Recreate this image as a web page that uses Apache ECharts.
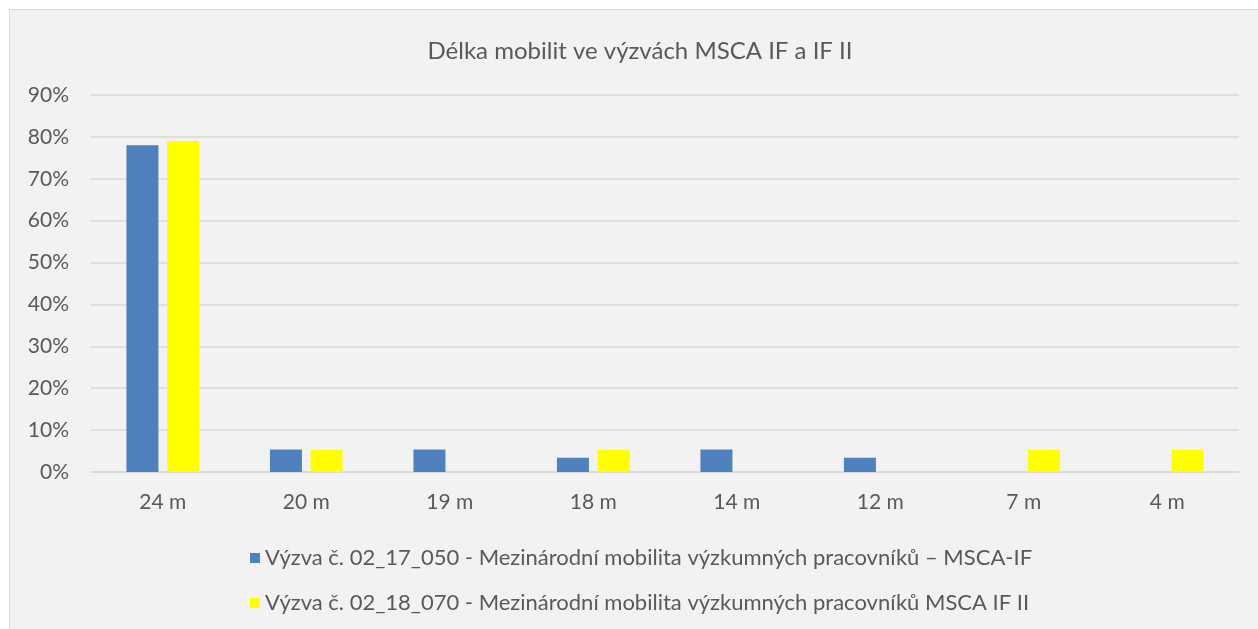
<!DOCTYPE html>
<html>
<head>
<meta charset="utf-8">
<script src="https://cdn.jsdelivr.net/npm/echarts@6/dist/echarts.min.js"></script>
<style>
  html, body { margin: 0; padding: 0; background: #ffffff; overflow: hidden; }
  #delkaMobilit {
    position: absolute;
    left: 9px;
    top: 9px;
    width: 1262px;
    height: 630px;
    border: 1px solid #d9d9d9;
    background: #f2f2f2;
  }
</style>
</head>
<body>
<div id="delkaMobilit"></div>
<script>
// kategorie - délka mobility
var kategorie = ["24 m", "20 m", "19 m", "18 m", "14 m", "12 m", "7 m", "4 m"];
// podíly v %
var vyzva050 = [78, 5.4, 5.4, 3.4, 5.4, 3.4, 0, 0];
var vyzva070 = [79, 5.3, 0, 5.3, 0, 0, 5.3, 5.3];
var nazvy = [
  "Výzva č. 02_17_050 - Mezinárodní mobilita výzkumných pracovníků – MSCA-IF",
  "Výzva č. 02_18_070 - Mezinárodní mobilita výzkumných pracovníků MSCA IF II"
];

var font = "Lato";
var seda = "#595959";

var myChart = echarts.init(document.getElementById("delkaMobilit"));
var option = {
  animation: false,
  textStyle: { fontFamily: font },
  title: {
    text: "Délka mobilit ve výzvách MSCA IF a IF II",
    left: 625,
    textAlign: "center",
    top: 24,
    textStyle: { fontFamily: font, fontSize: 24, fontWeight: "normal", color: seda }
  },
  legend: {
    orient: "vertical",
    left: 235,
    top: 532,
    itemWidth: 10,
    itemHeight: 10,
    itemGap: 23,
    icon: "rect",
    data: nazvy,
    textStyle: { fontFamily: font, fontSize: 22, color: seda, lineHeight: 22 }
  },
  grid: {
    left: 81,
    width: 1148,
    top: 85,
    height: 377,
    containLabel: false
  },
  xAxis: {
    type: "category",
    data: kategorie,
    axisLine: { lineStyle: { color: "#d9d9d9", width: 1.5 } },
    axisTick: { show: false },
    axisLabel: { fontFamily: font, fontSize: 21, color: seda, margin: 20 }
  },
  yAxis: {
    type: "value",
    min: 0,
    max: 90,
    interval: 10,
    axisLine: { show: false },
    axisTick: { show: false },
    splitLine: { lineStyle: { color: "#d9d9d9", width: 1.5 } },
    axisLabel: {
      fontFamily: font, fontSize: 21, color: seda, margin: 22,
      formatter: "{value}%"
    }
  },
  series: [
    {
      name: nazvy[0],
      type: "bar",
      data: vyzva050,
      barWidth: 32,
      barGap: "27%",
      itemStyle: { color: "#4f81bd" }
    },
    {
      name: nazvy[1],
      type: "bar",
      data: vyzva070,
      barWidth: 32,
      itemStyle: { color: "#ffff00" }
    }
  ]
};
myChart.setOption(option);
</script>
</body>
</html>
